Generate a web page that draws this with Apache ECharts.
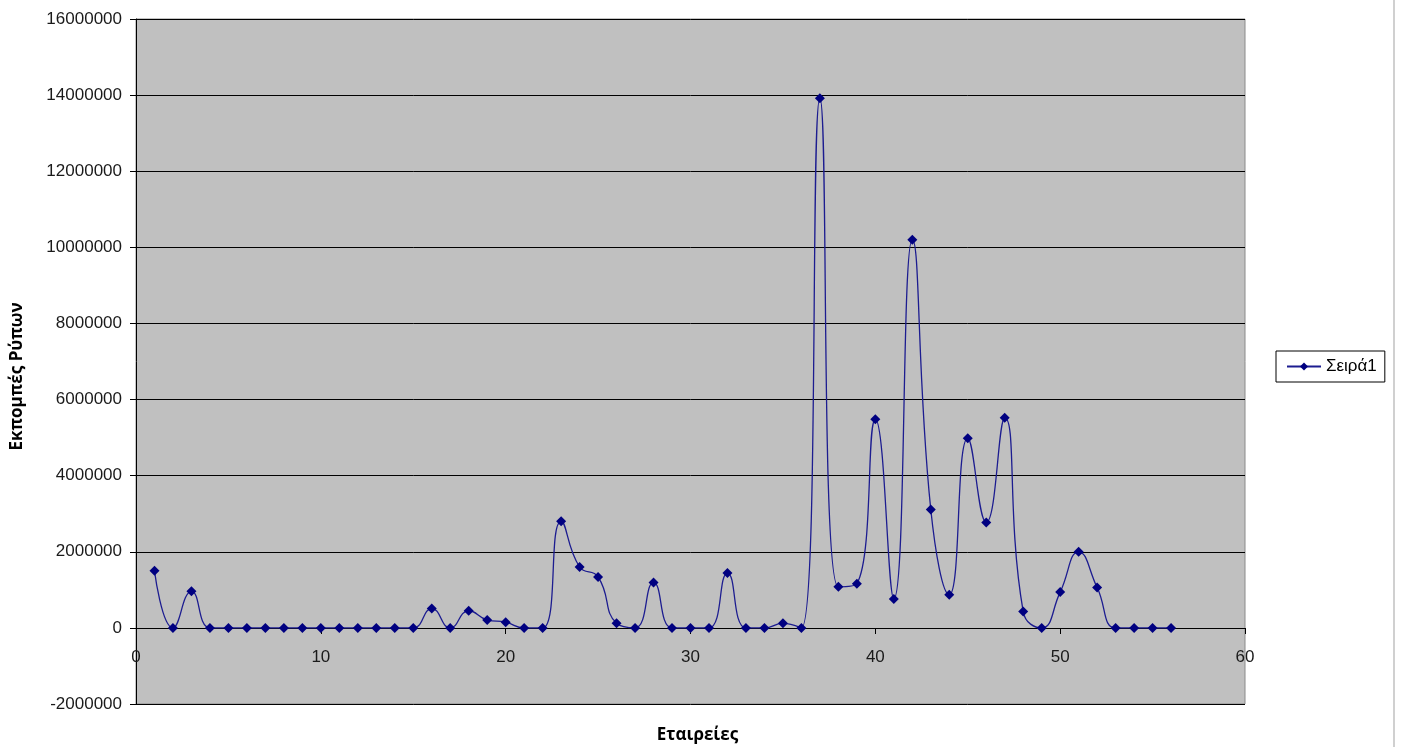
<!DOCTYPE html>
<html>
<head>
<meta charset="utf-8">
<script src="https://cdn.jsdelivr.net/npm/echarts@6/dist/echarts.min.js"></script>
<style>
html,body{margin:0;padding:0;background:#fff;}
#chart{width:1401px;height:747px;}
</style>
</head>
<body>
<div id="chart"></div>
<script>
const companies = [1,2,3,4,5,6,7,8,9,10,11,12,13,14,15,16,17,18,19,20,21,22,23,24,25,26,27,28,29,30,31,32,33,34,35,36,37,38,39,40,41,42,43,44,45,46,47,48,49,50,51,52,53,54,55,56];
const emissions = [
  1500000, 0, 960000, 0, 0, 0, 0, 0, 0, 0,
  0, 0, 0, 0, 0, 510000, 0, 450000, 210000, 150000,
  0, 0, 2800000, 1600000, 1340000, 120000, 0, 1190000, 0, 0,
  0, 1440000, 0, 0, 120000, 0, 13920000, 1080000, 1160000, 5480000,
  760000, 10200000, 3110000, 870000, 4980000, 2770000, 5520000, 430000, 0, 940000,
  2000000, 1060000, 0, 0, 0, 0
];
const seriesName = 'Σειρά1';
const xTitle = 'Εταιρείες';
const yTitle = 'Εκπομπές Ρύπων';

const chart = echarts.init(document.getElementById('chart'));
const points = companies.map((c, i) => [c, emissions[i]]);
const font = 'Liberation Sans, Arial, sans-serif';

chart.setOption({
  animation: false,
  backgroundColor: '#ffffff',
  grid: {
    left: 136, right: 156, top: 19, bottom: 43,
    containLabel: false, outerBoundsMode: 'none',
    show: true, backgroundColor: '#c0c0c0', borderColor: '#8a8a8a', borderWidth: 1
  },
  legend: {
    left: 1276, top: 351,
    orient: 'vertical',
    padding: [7, 8, 7, 10],
    borderColor: '#000', borderWidth: 1,
    itemWidth: 34, itemHeight: 10, itemGap: 4,
    textStyle: { fontFamily: font, fontSize: 17, color: '#000' },
    data: [seriesName]
  },
  xAxis: {
    type: 'value', min: 0, max: 60, interval: 10,
    position: 'bottom',
    offset: -76,
    axisLine: { show: true, onZero: false, lineStyle: { color: '#000', width: 1 } },
    axisTick: { show: true, length: 6, inside: false, lineStyle: { color: '#000' } },
    axisLabel: { fontFamily: font, fontSize: 17, color: '#1a1a1a', margin: 21 },
    splitLine: { show: false },
    name: xTitle, nameLocation: 'middle', nameGap: 99, nameMoveOverlap: false,
    nameTextStyle: { fontFamily: 'Open Sans, sans-serif', fontSize: 17, fontWeight: 'bold', color: '#000', padding: [0,0,0,14] }
  },
  yAxis: {
    type: 'value', min: -2000000, max: 16000000, interval: 2000000,
    axisLine: { show: true, onZero: false, lineStyle: { color: '#000', width: 1 } },
    axisTick: { show: true, length: 6, lineStyle: { color: '#000' } },
    axisLabel: { fontFamily: font, fontSize: 17, color: '#1a1a1a', margin: 14, formatter: v => String(v) },
    splitLine: { show: true, lineStyle: { color: '#000', width: 1 } },
    name: yTitle, nameLocation: 'middle', nameGap: 110, nameRotate: 90,
    nameTextStyle: { fontFamily: 'Open Sans, sans-serif', fontSize: 17, fontWeight: 'bold', color: '#000', padding: [0, 30, 0, 0] }
  },
  series: [{
    name: seriesName,
    type: 'line',
    data: points,
    smooth: 0.5,
    smoothConstraint: false,
    symbol: 'diamond',
    symbolSize: 10,
    itemStyle: { color: '#000080' },
    lineStyle: { color: '#1c1c90', width: 1.3 }
  }],
  graphic: [{
    type: 'line', shape: { x1: 1394, y1: 0, x2: 1394, y2: 747 },
    style: { stroke: '#d0d0d0', lineWidth: 2 }
  }]
});
</script>
</body>
</html>
